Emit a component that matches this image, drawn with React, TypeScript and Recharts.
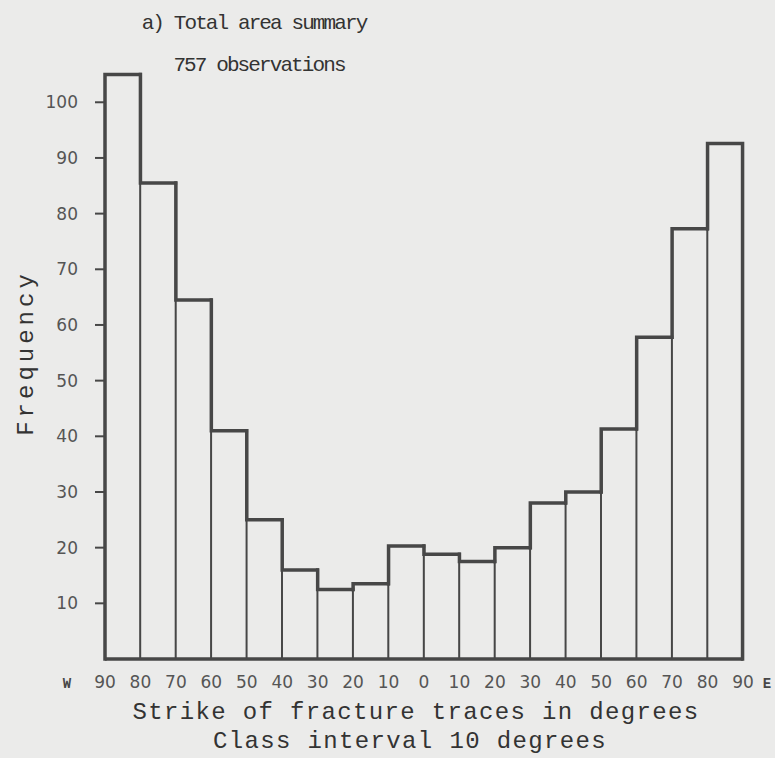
import { Bar, BarChart, XAxis, YAxis } from "recharts";

// class intervals, W 90 -> E 90 (west as negative); label = left edge of the class
const binStarts = [-90, -80, -70, -60, -50, -40, -30, -20, -10, 0, 10, 20, 30, 40, 50, 60, 70, 80];
const counts = [105, 85.5, 64.5, 41, 25, 16, 12.5, 13.5, 20.3, 18.8, 17.5, 20, 28, 30, 41.3, 57.8, 77.3, 92.6];
const yTicks = [10, 20, 30, 40, 50, 60, 70, 80, 90, 100];

const W = 775;
const H = 758;
const PAPER = "#ebebea";
const INK = "#474747";
const TYPE = "'Liberation Mono', 'DejaVu Sans Mono', monospace";
const LETTER = "'DejaVu Sans', sans-serif";

const M = { top: 46.6, right: 32, bottom: 0, left: 0 };
const Y_W = 105;
const X_H = 99;
const PLOT_W = W - Y_W - M.right;
const BAND = PLOT_W / binStarts.length;

const bars = binStarts.map((s, i) => ({
  bin: s,
  count: counts[i],
  prev: i > 0 ? counts[i - 1] : 0,
  last: i === binStarts.length - 1,
}));

// thin box for every class plus the heavy stepped outline of the histogram
function HistBar(props: any) {
  const { x, y, width, height, payload } = props;
  const base = y + height;
  const perUnit = height / payload.count;
  const prevY = base - payload.prev * perUnit;
  let d = `M${x},${prevY} V${y} H${x + width}`;
  if (payload.last) d += ` V${base}`;
  return (
    <g>
      <rect x={x} y={y} width={width} height={height} fill="none" stroke={INK} strokeWidth={1.5} />
      <path d={d} fill="none" stroke={INK} strokeWidth={3.5} strokeLinecap="square" strokeLinejoin="miter" />
    </g>
  );
}

function XTick({ x, y, payload, index }: any) {
  const v = payload.value;
  const left = x - BAND / 2;
  const txt = { fontFamily: LETTER, fontSize: 17, fill: "#555", textAnchor: "middle" as const };
  const mark = { fontFamily: TYPE, fontWeight: "bold", fontSize: 14, fill: INK, textAnchor: "middle" as const };
  return (
    <g>
      <text x={left} y={y} dy={29} {...txt}>
        {Math.abs(v)}
      </text>
      {index === 0 && (
        <text x={left - 38} y={y} dy={29} {...mark}>
          W
        </text>
      )}
      {v === binStarts[binStarts.length - 1] && (
        <>
          <text x={left + BAND} y={y} dy={29} {...txt}>
            {Math.abs(v + 10)}
          </text>
          <text x={left + BAND + 24} y={y} dy={29} {...mark}>
            E
          </text>
        </>
      )}
    </g>
  );
}

export default function App() {
  return (
    <div style={{ position: "absolute", left: 0, top: 0, width: W, height: H, background: PAPER }}>
      <BarChart width={W} height={H} data={bars} margin={M} barCategoryGap={0}>
        <XAxis
          dataKey="bin"
          interval={0}
          height={X_H}
          tickSize={0}
          tickMargin={0}
          tickLine={false}
          axisLine={{ stroke: INK, strokeWidth: 3.5 }}
          tick={<XTick />}
        />
        <YAxis
          type="number"
          domain={[0, 110]}
          ticks={yTicks}
          interval={0}
          width={Y_W}
          axisLine={false}
          tickSize={10}
          tickMargin={17}
          tickLine={{ stroke: INK, strokeWidth: 2 }}
          tick={{ fontFamily: LETTER, fontSize: 17, fill: "#555" }}
        />
        <Bar dataKey="count" shape={<HistBar />} isAnimationActive={false} />
      </BarChart>
      <svg width={W} height={H} style={{ position: "absolute", left: 0, top: 0, pointerEvents: "none" }}>
        <text x={254} y={29} textAnchor="middle" fontFamily={TYPE} fontSize={21} letterSpacing={-1.9} fill="#333">
          a) Total area summary
        </text>
        <text x={259} y={71} textAnchor="middle" fontFamily={TYPE} fontSize={21} letterSpacing={-1.9} fill="#333">
          757 observations
        </text>
        <text
          x={33}
          y={353}
          transform="rotate(-90, 33, 353)"
          textAnchor="middle"
          fontFamily={TYPE}
          fontSize={24}
          letterSpacing={4}
          fill="#333"
        >
          Frequency
        </text>
        <text x={416} y={719} textAnchor="middle" fontFamily={TYPE} fontSize={24} letterSpacing={1.35} fill="#333">
          Strike of fracture traces in degrees
        </text>
        <text x={410} y={748} textAnchor="middle" fontFamily={TYPE} fontSize={24} letterSpacing={1.35} fill="#333">
          Class interval 10 degrees
        </text>
      </svg>
    </div>
  );
}
